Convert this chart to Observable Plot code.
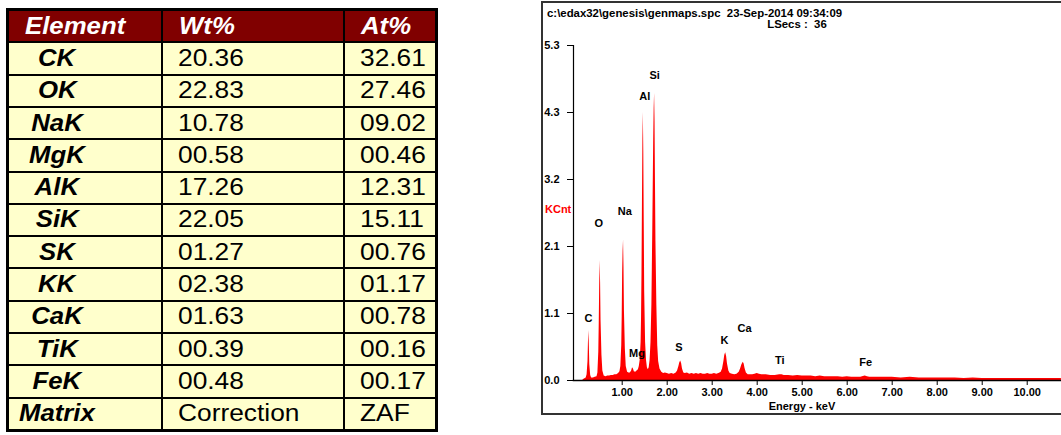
<!DOCTYPE html>
<html><head><meta charset="utf-8">
<script src="https://cdn.jsdelivr.net/npm/d3@7"></script>
<script src="https://cdn.jsdelivr.net/npm/@observablehq/plot@0.6"></script>
<style>
html,body{margin:0;padding:0;background:#fff;overflow:hidden;width:1061px;height:435px;}
#tbl{position:absolute;left:6px;top:8px;width:426px;height:418px;border:3px solid #000;background:#000;display:grid;grid-template-columns:152px 180px 90px;grid-template-rows:repeat(13,1fr);gap:2px;font-family:Arial,"Liberation Sans",sans-serif;}
.cell{background:#ffffcc;display:flex;align-items:center;overflow:hidden;white-space:nowrap;font-size:23.5px;color:#000;}
.hd{background:#800000;color:#fff;font-weight:bold;font-style:italic;font-size:23px;padding-left:16px}
.el{font-weight:bold;font-style:italic;justify-content:center;padding-right:56px;font-size:23px}
.num{padding-left:15px}
.cell span{display:inline-block;transform:scaleX(1.12);transform-origin:left center}
.el span{transform-origin:center}
#chart{position:absolute;left:541px;top:1px;width:518px;height:410px;border:2px solid #333;border-right:none;font-family:"Liberation Sans",Arial,sans-serif;font-weight:bold;color:#000;}
#chart .t{position:absolute;white-space:pre;font-size:11.4px;line-height:12px;}
#chart svg{position:absolute;left:0;top:0;}
</style>
</head><body>
<div id="tbl"></div>
<div id="chart">
  <div class="t" id="h1" style="left:4px;top:4px"></div>
  <div class="t" id="h2" style="left:254px;top:15px;transform:translateX(-50%)"></div>
  <div class="t" id="yl" style="left:2px;top:200px;color:#ff0000;font-size:11px"></div>
  <div class="t" id="xl" style="left:259px;top:397px;transform:translateX(-50%);font-size:11px"></div>
</div>
<script>
// ---- table data ----
const tableHeaders = ["Element", "Wt%", "At%"];
const elements = ["CK","OK","NaK","MgK","AlK","SiK","SK","KK","CaK","TiK","FeK","Matrix"];
const wtPct = ["20.36","22.83","10.78","00.58","17.26","22.05","01.27","02.38","01.63","00.39","00.48","Correction"];
const atPct = ["32.61","27.46","09.02","00.46","12.31","15.11","00.76","01.17","00.78","00.16","00.17","ZAF"];

// ---- chart texts ----
const headerLine1 = "c:\\edax32\\genesis\\genmaps.spc  23-Sep-2014 09:34:09";
const headerLine2 = "LSecs :  36";
const yAxisLabel = "KCnt";
const xAxisLabel = "Energy - keV";

// ---- axes ----
const yTicks = [0, 1.06, 2.12, 3.18, 4.24, 5.3];
const yTickLabels = ["0.0", "1.1", "2.1", "3.2", "4.3", "5.3"];
const xTicks = [1, 2, 3, 4, 5, 6, 7, 8, 9, 10];
const xTickLabels = ["1.00","2.00","3.00","4.00","5.00","6.00","7.00","8.00","9.00","10.00"];

// ---- peak labels: name, energy (keV), label height (KCnt) ----
const peakNames = ["C","O","Na","Al","Si","Mg","S","K","Ca","Ti","Fe"];
const peakEnergy = [0.25, 0.48, 1.06, 1.50, 1.72, 1.33, 2.26, 3.27, 3.72, 4.50, 6.41];
const peakLabelY = [0.98, 2.48, 2.67, 4.50, 4.82, 0.42, 0.53, 0.64, 0.83, 0.32, 0.29];

// ---- spectrum: [energy keV, counts KCnt] ----
const spectrum = [[0,0],[0.12,0],[0.15,0.02],[0.18,0.03],[0.20,0.04],[0.22,0.09],[0.24,0.3],[0.25,0.6],[0.26,0.79],[0.27,0.55],[0.28,0.25],[0.30,0.08],[0.32,0.04],[0.36,0.04],[0.40,0.05],[0.44,0.06],[0.46,0.12],[0.48,0.45],[0.49,0.9],[0.50,1.5],[0.51,1.90],[0.52,1.55],[0.53,0.95],[0.55,0.4],[0.57,0.15],[0.60,0.07],[0.64,0.06],[0.68,0.07],[0.72,0.07],[0.76,0.08],[0.80,0.08],[0.84,0.09],[0.88,0.09],[0.92,0.11],[0.95,0.14],[0.97,0.22],[0.99,0.55],[1.00,1.0],[1.01,1.7],[1.02,2.05],[1.03,2.22],[1.04,1.8],[1.05,1.1],[1.07,0.5],[1.09,0.22],[1.12,0.13],[1.15,0.12],[1.18,0.12],[1.21,0.15],[1.23,0.2],[1.25,0.18],[1.27,0.14],[1.30,0.13],[1.33,0.15],[1.36,0.17],[1.38,0.22],[1.40,0.32],[1.42,0.6],[1.43,1.0],[1.44,1.7],[1.45,2.8],[1.46,3.8],[1.47,4.24],[1.48,3.6],[1.49,2.5],[1.50,1.4],[1.52,0.6],[1.54,0.32],[1.56,0.2],[1.58,0.17],[1.60,0.2],[1.62,0.32],[1.64,0.6],[1.66,1.2],[1.67,1.8],[1.68,2.4],[1.69,3.1],[1.70,3.8],[1.71,4.3],[1.72,4.54],[1.73,4.1],[1.74,3.1],[1.75,2.2],[1.77,1.2],[1.79,0.55],[1.81,0.3],[1.84,0.18],[1.88,0.13],[1.92,0.11],[1.96,0.12],[2.00,0.11],[2.05,0.10],[2.10,0.11],[2.15,0.10],[2.20,0.12],[2.23,0.15],[2.26,0.22],[2.28,0.28],[2.30,0.31],[2.32,0.27],[2.34,0.18],[2.37,0.12],[2.40,0.11],[2.45,0.12],[2.50,0.10],[2.55,0.11],[2.60,0.10],[2.65,0.11],[2.70,0.10],[2.75,0.11],[2.80,0.10],[2.85,0.10],[2.90,0.11],[2.95,0.10],[3.00,0.10],[3.05,0.11],[3.10,0.10],[3.15,0.11],[3.20,0.13],[3.23,0.18],[3.26,0.3],[3.28,0.4],[3.30,0.44],[3.32,0.38],[3.34,0.26],[3.37,0.15],[3.40,0.11],[3.45,0.10],[3.50,0.09],[3.55,0.10],[3.60,0.13],[3.63,0.18],[3.66,0.25],[3.69,0.29],[3.71,0.26],[3.73,0.19],[3.76,0.12],[3.80,0.09],[3.85,0.09],[3.90,0.09],[3.95,0.10],[4.00,0.11],[4.05,0.10],[4.10,0.09],[4.20,0.09],[4.30,0.08],[4.40,0.08],[4.50,0.09],[4.55,0.09],[4.60,0.08],[4.70,0.08],[4.80,0.07],[4.90,0.08],[5.00,0.07],[5.10,0.07],[5.20,0.07],[5.30,0.06],[5.40,0.07],[5.50,0.06],[5.60,0.06],[5.70,0.06],[5.80,0.06],[5.90,0.05],[6.00,0.06],[6.10,0.05],[6.20,0.05],[6.30,0.05],[6.40,0.07],[6.45,0.06],[6.50,0.05],[6.60,0.05],[6.70,0.05],[6.80,0.05],[6.90,0.05],[7.00,0.05],[7.20,0.04],[7.40,0.05],[7.60,0.04],[7.80,0.04],[8.00,0.04],[8.20,0.04],[8.40,0.04],[8.60,0.03],[8.80,0.04],[9.00,0.03],[9.20,0.03],[9.40,0.03],[9.60,0.03],[9.80,0.03],[10.00,0.03],[10.20,0.03],[10.40,0.03],[10.60,0.03],[10.76,0.03]];

// ---- build table ----
const tbl = document.getElementById("tbl");
function addCell(text, cls) {
  const d = document.createElement("div");
  d.className = "cell " + cls;
  const s = document.createElement("span");
  s.textContent = text;
  d.appendChild(s);
  tbl.appendChild(d);
}
tableHeaders.forEach(h => addCell(h, "hd"));
elements.forEach((el, i) => {
  addCell(el, "el");
  addCell(wtPct[i], "num");
  addCell(atPct[i], "num");
});

// ---- chart texts ----
document.getElementById("h1").textContent = headerLine1;
document.getElementById("h2").textContent = headerLine2;
document.getElementById("yl").textContent = yAxisLabel;
document.getElementById("xl").textContent = xAxisLabel;

// ---- chart ----
const specData = spectrum.map(([e, c]) => ({e, c}));
const peaks = peakNames.map((name, i) => ({name, e: peakEnergy[i], y: peakLabelY[i]}));
const yLabelMap = new Map(yTicks.map((t, i) => [t, yTickLabels[i]]));
const xLabelMap = new Map(xTicks.map((t, i) => [t, xTickLabels[i]]));

const chart = Plot.plot({
  width: 518,
  height: 410,
  marginLeft: 30,
  marginRight: 0,
  marginTop: 42,
  marginBottom: 33,
  style: {fontFamily: "'Liberation Sans', Arial, sans-serif", fontSize: "11px", fontWeight: "bold", color: "#000", background: "transparent", overflow: "visible"},
  x: {domain: [-0.082, 10.762]},
  y: {domain: [0, 5.3]},
  marks: [
    Plot.areaY(specData, {x: "e", y: "c", fill: "#ff0000"}),
    Plot.frame({anchor: "left", stroke: "#000", strokeWidth: 1.2}),
    Plot.frame({anchor: "bottom", stroke: "#000", strokeWidth: 1.6}),
    Plot.axisY({ticks: yTicks, tickFormat: d => yLabelMap.get(d), tickSize: 6, tickPadding: 8, label: null, stroke: "#000"}),
    Plot.axisX({ticks: xTicks, tickFormat: d => xLabelMap.get(d), tickSize: 5, tickPadding: 3, label: null, stroke: "#000"}),
    Plot.text(peaks, {x: "e", y: "y", text: "name", fontSize: 11, fontWeight: "bold", fill: "#000", lineAnchor: "middle"})
  ]
});
document.getElementById("chart").appendChild(chart);
</script>
</body></html>
